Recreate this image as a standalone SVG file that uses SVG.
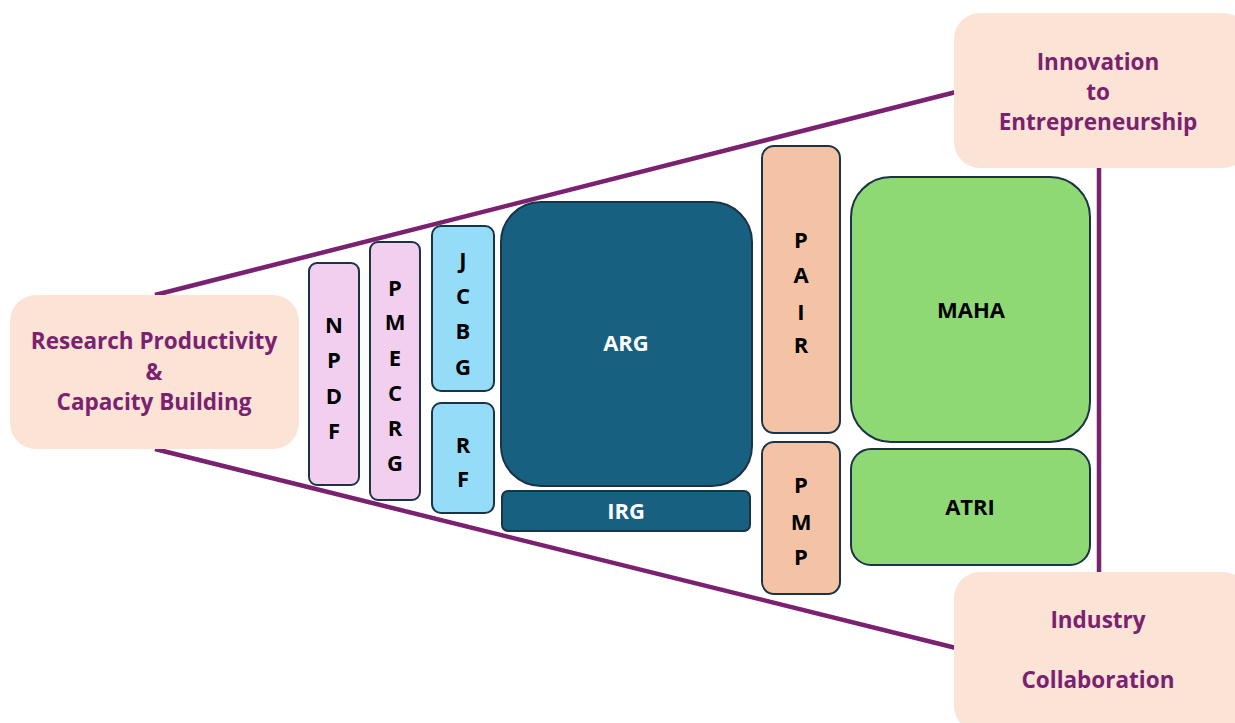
<svg xmlns="http://www.w3.org/2000/svg" width="1235" height="723" viewBox="0 0 1235 723">
<style>
.goal{fill:#fbe3d6;}
.gt{font-family:"Open Sans",sans-serif;font-weight:700;font-size:22.5px;fill:#7a2170;text-anchor:middle;}
.bx{stroke:#1b3346;stroke-width:2;}
.lt{font-family:"Open Sans",sans-serif;font-weight:700;font-size:22px;fill:#000;text-anchor:middle;}
.wt{font-family:"Open Sans",sans-serif;font-weight:700;font-size:22px;fill:#fff;text-anchor:middle;}
.con{stroke:#7a2170;stroke-width:4.5;fill:none;}
</style>
<rect width="1235" height="723" fill="#fff"/>
<g id="connectors">
<line class="con" x1="155" y1="295" x2="956" y2="92"/>
<line class="con" x1="155" y1="449" x2="956" y2="648"/>
<line class="con" x1="1099" y1="166" x2="1099" y2="574"/>
</g>
<g id="research">
<rect class="goal" x="10" y="295" width="289" height="154" rx="26"/>
<text class="gt" x="154" y="349">Research Productivity</text>
<text class="gt" x="154" y="380">&amp;</text>
<text class="gt" x="154" y="410">Capacity Building</text>
</g>
<g id="innovation">
<rect class="goal" x="954" y="13" width="295" height="155" rx="26"/>
<text class="gt" x="1098" y="70">Innovation</text>
<text class="gt" x="1098" y="100">to</text>
<text class="gt" x="1098" y="130">Entrepreneurship</text>
</g>
<g id="industry">
<rect class="goal" x="954" y="572" width="295" height="160" rx="26"/>
<text class="gt" x="1098" y="628">Industry</text>
<text class="gt" x="1098" y="688">Collaboration</text>
</g>
<g id="npdf">
<rect class="bx" x="309" y="263" width="50" height="222" rx="8" fill="#f2cfee"/>
<text class="lt" x="334" y="333">N</text>
<text class="lt" x="334" y="368">P</text>
<text class="lt" x="334" y="404">D</text>
<text class="lt" x="334" y="439">F</text>
</g>
<g id="pmecrg">
<rect class="bx" x="370" y="242" width="50" height="258" rx="8" fill="#f2cfee"/>
<text class="lt" x="395" y="296">P</text>
<text class="lt" x="395" y="330">M</text>
<text class="lt" x="395" y="366">E</text>
<text class="lt" x="395" y="401">C</text>
<text class="lt" x="395" y="436">R</text>
<text class="lt" x="395" y="471">G</text>
</g>
<g id="jcbg">
<rect class="bx" x="432" y="226" width="62" height="165" rx="9" fill="#94dcf8"/>
<text class="lt" x="463" y="268">J</text>
<text class="lt" x="463" y="304">C</text>
<text class="lt" x="463" y="339">B</text>
<text class="lt" x="463" y="375">G</text>
</g>
<g id="rf">
<rect class="bx" x="432" y="403" width="62" height="110" rx="9" fill="#94dcf8"/>
<text class="lt" x="463" y="453">R</text>
<text class="lt" x="463" y="487">F</text>
</g>
<g id="arg">
<rect class="bx" x="501" y="202" width="251" height="284" rx="40" fill="#17607f"/>
<text class="wt" x="626" y="351">ARG</text>
</g>
<g id="irg">
<rect class="bx" x="502" y="491" width="248" height="40" rx="6" fill="#17607f"/>
<text class="wt" x="626" y="519">IRG</text>
</g>
<g id="pair">
<rect class="bx" x="762" y="146" width="78" height="287" rx="12" fill="#f4c3a6"/>
<text class="lt" x="801" y="248">P</text>
<text class="lt" x="801" y="283">A</text>
<text class="lt" x="801" y="320">I</text>
<text class="lt" x="801" y="353">R</text>
</g>
<g id="pmp">
<rect class="bx" x="762" y="442" width="78" height="152" rx="12" fill="#f4c3a6"/>
<text class="lt" x="801" y="493">P</text>
<text class="lt" x="801" y="530">M</text>
<text class="lt" x="801" y="565">P</text>
</g>
<g id="maha">
<rect class="bx" x="851" y="177" width="239" height="265" rx="40" fill="#8ed973"/>
<text class="lt" x="971" y="318">MAHA</text>
</g>
<g id="atri">
<rect class="bx" x="851" y="449" width="239" height="116" rx="20" fill="#8ed973"/>
<text class="lt" x="970" y="515">ATRI</text>
</g>
</svg>
